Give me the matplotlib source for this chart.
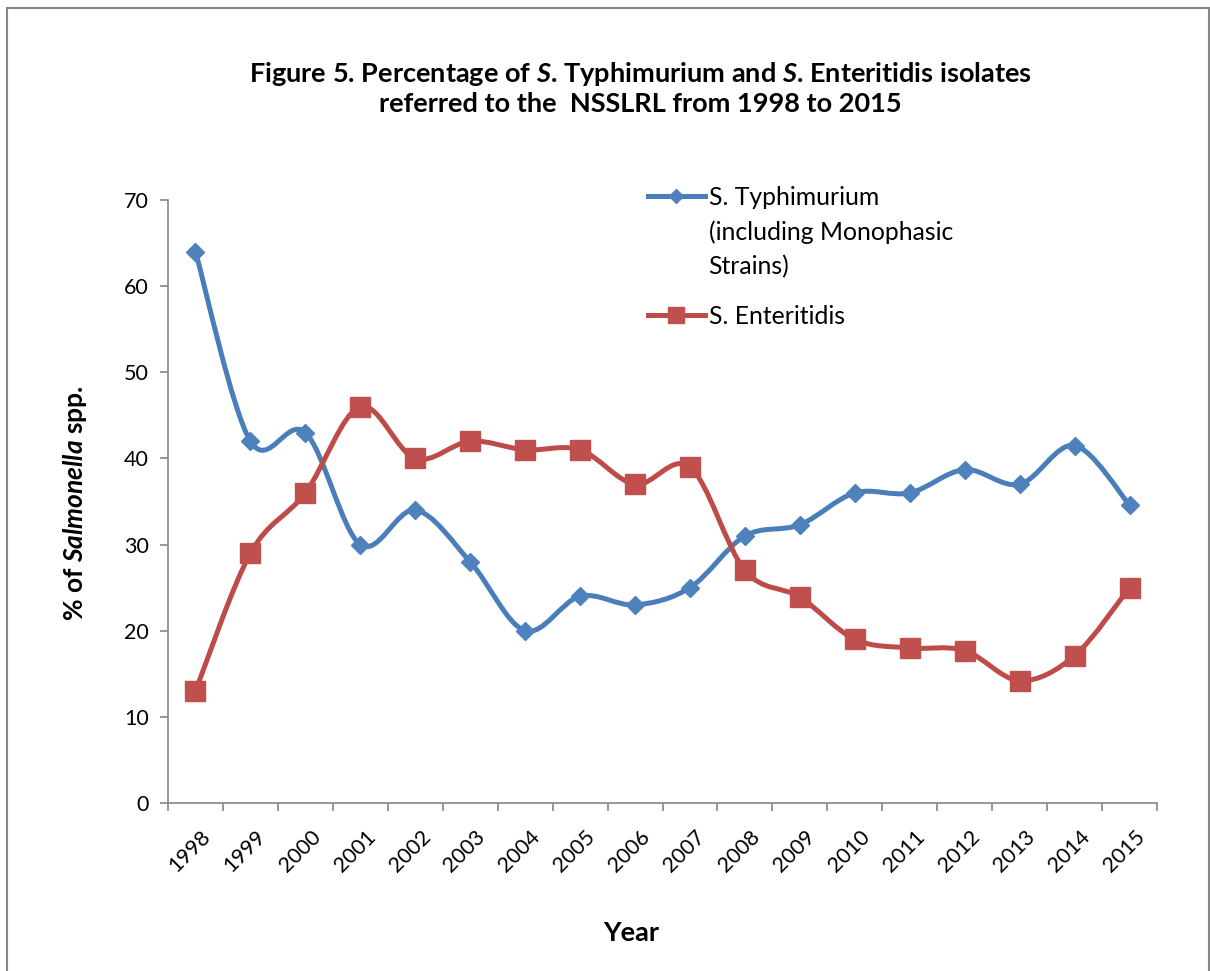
import numpy as np
import matplotlib.pyplot as plt
import matplotlib.transforms as mtransforms
from matplotlib.path import Path
from matplotlib.patches import PathPatch, Rectangle
from matplotlib.lines import Line2D

plt.rcParams['font.family'] = ['Lato', 'DejaVu Sans']
plt.rcParams['mathtext.fontset'] = 'custom'
plt.rcParams['mathtext.rm'] = 'Lato'
plt.rcParams['mathtext.bf'] = 'Lato:bold'
plt.rcParams['mathtext.bfit'] = 'Lato:bold:italic'

years = [str(y) for y in range(1998, 2016)]
typhimurium = [64, 42, 43, 30, 34, 28, 20, 24, 23, 25, 31, 32.3, 36, 36, 38.7, 37, 41.5, 34.6]
enteritidis = [13, 29, 36, 46, 40, 42, 41, 41, 37, 39, 27, 23.9, 19, 18, 17.7, 14.2, 17.1, 25]
y_ticks = [0, 10, 20, 30, 40, 50, 60, 70]

blue_line = '#4A7EBB'
blue_mark = '#4F81BD'
red_line = '#BE4B48'
red_mark = '#C0504D'
axis_grey = '#868686'


def smooth_path(xs, ys):
    # cubic bezier through every point, like a "smoothed line" series
    pts = np.column_stack([xs, ys]).astype(float)
    n = len(pts)
    verts = [pts[0]]
    codes = [Path.MOVETO]
    for i in range(n - 1):
        p0 = pts[i - 1] if i > 0 else pts[i]
        p1 = pts[i]
        p2 = pts[i + 1]
        p3 = pts[i + 2] if i + 2 < n else pts[i + 1]
        verts += [p1 + (p2 - p0) / 6, p2 - (p3 - p1) / 6, p2]
        codes += [Path.CURVE4] * 3
    return Path(verts, codes)


fig = plt.figure(figsize=(12.1, 9.71), dpi=100)
fig.add_artist(Rectangle((7 / 1210, -0.01), 1202 / 1210, 1 - 8 / 971 + 0.01,
                         transform=fig.transFigure, fill=False, ec=axis_grey, lw=1.5))

ax = fig.add_axes([168 / 1210, 1 - 803 / 971, 989 / 1210, 603 / 971])
x = np.arange(len(years))

for vals, lc, mc, mk, ms in [(typhimurium, blue_line, blue_mark, 'D', 9.5),
                             (enteritidis, red_line, red_mark, 's', 14)]:
    ax.add_patch(PathPatch(smooth_path(x, vals), fill=False, ec=lc, lw=3.6,
                           capstyle='round', joinstyle='round', zorder=2))
    ax.plot(x, vals, ls='none', marker=mk, ms=ms, mfc=mc, mec=mc, zorder=3)

ax.set_xlim(-0.5, len(years) - 0.5)
ax.set_ylim(0, 70)
ax.set_yticks(y_ticks)
ax.set_yticklabels([str(v) for v in y_ticks], fontsize=15.5)
ax.set_xticks(np.arange(len(years) + 1) - 0.5)
ax.set_xticklabels([])
ax.set_xticks(x, minor=True)
ax.set_xticklabels(years, minor=True, fontsize=15.5, rotation=45,
                   ha='right', va='top', rotation_mode='anchor')
ax.tick_params(axis='x', which='minor', length=0, pad=17)
ax.tick_params(axis='both', which='major', direction='out', length=6,
               width=1.2, color=axis_grey)
ax.tick_params(axis='y', pad=8)
# nudge the slanted year labels a little to the right
shift = mtransforms.ScaledTranslation(5 / 100, 0, fig.dpi_scale_trans)
for lbl in ax.get_xticklabels(minor=True):
    lbl.set_transform(lbl.get_transform() + shift)
for side in ['top', 'right']:
    ax.spines[side].set_visible(False)
for side in ['left', 'bottom']:
    ax.spines[side].set_color(axis_grey)
    ax.spines[side].set_linewidth(1.2)

handles = [Line2D([], [], color=blue_line, lw=3.6, marker='D', ms=7, mfc=blue_mark, mec=blue_mark),
           Line2D([], [], color=red_line, lw=3.6, marker='s', ms=12, mfc=red_mark, mec=red_mark)]
leg = ax.legend(handles, ['S. Typhimurium', 'S. Enteritidis'], loc='upper left',
                bbox_to_anchor=(648 / 1210, 1 - 186 / 971), bbox_transform=fig.transFigure,
                frameon=False, fontsize=17.8, handlelength=2.3, handletextpad=0.15,
                borderpad=0, borderaxespad=0, labelspacing=3.87)
# second and third lines of the first legend label, drawn after the legend
ax.annotate('(including Monophasic\nStrains)', xy=(0, 0), xycoords=leg.get_texts()[0],
            xytext=(0, -8.5), textcoords='offset points', ha='left', va='top',
            fontsize=17.8, linespacing=1.55, zorder=6)

fig.text(640 / 1210, 1 - 88 / 971,
         'Figure 5. Percentage of $\\mathbfit{S}$. Typhimurium and $\\mathbfit{S}$. Enteritidis isolates\n'
         'referred to the  NSSLRL from 1998 to 2015',
         ha='center', va='center', fontsize=19.5, fontweight='bold', linespacing=1.2)
fig.text(75 / 1210, 1 - 503 / 971, '% of $\\mathbfit{Salmonella}$ spp.', rotation=90,
         ha='center', va='center', fontsize=19, fontweight='bold')
fig.text(631 / 1210, 1 - 933 / 971, 'Year', ha='center', va='center',
         fontsize=19.5, fontweight='bold')

fig.savefig('out.png', dpi=100)
